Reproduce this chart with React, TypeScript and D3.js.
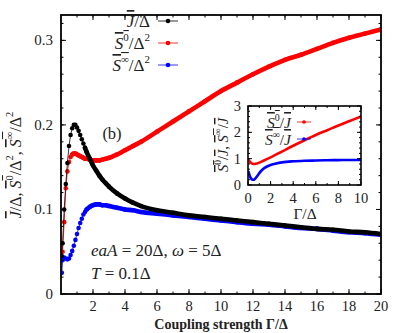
import React from "react";
import * as d3 from "d3";

const gammaMain = [0.05, 0.1, 0.2, 0.3, 0.4, 0.5, 0.6, 0.7, 0.8, 0.9, 1.0, 1.1, 1.2, 1.3, 1.4, 1.5, 1.6, 1.8, 2.0, 2.2, 2.4, 2.6, 2.8, 3.0, 3.5, 4, 4.5, 5, 6, 7, 8, 9, 10, 11, 12, 13, 14, 15, 16, 17, 18, 19, 20];
const currentJ = [0.045, 0.06, 0.1, 0.13, 0.155, 0.175, 0.188, 0.196, 0.2, 0.2, 0.197, 0.193, 0.188, 0.183, 0.178, 0.173, 0.168, 0.16, 0.152, 0.146, 0.14, 0.135, 0.131, 0.127, 0.119, 0.113, 0.108, 0.104, 0.099, 0.096, 0.093, 0.091, 0.089, 0.087, 0.085, 0.083, 0.081, 0.079, 0.077, 0.076, 0.074, 0.073, 0.071];
const noiseS0 = [0.043, 0.05, 0.085, 0.125, 0.145, 0.156, 0.162, 0.165, 0.166, 0.166, 0.165, 0.164, 0.163, 0.162, 0.161, 0.16, 0.16, 0.159, 0.158, 0.158, 0.158, 0.159, 0.16, 0.161, 0.165, 0.17, 0.175, 0.18, 0.192, 0.204, 0.216, 0.228, 0.24, 0.25, 0.26, 0.269, 0.277, 0.283, 0.29, 0.297, 0.303, 0.308, 0.313];
const noiseSinf = [0.025, 0.04, 0.043, 0.042, 0.041, 0.042, 0.046, 0.051, 0.057, 0.064, 0.071, 0.078, 0.084, 0.089, 0.094, 0.097, 0.1, 0.103, 0.105, 0.106, 0.106, 0.105, 0.105, 0.104, 0.102, 0.1, 0.099, 0.097, 0.095, 0.093, 0.091, 0.089, 0.087, 0.085, 0.083, 0.082, 0.08, 0.078, 0.077, 0.075, 0.073, 0.072, 0.07];

const gammaInset = [0.05, 0.1, 0.2, 0.3, 0.4, 0.5, 0.6, 0.8, 1.0, 1.2, 1.5, 2, 2.5, 3, 4, 5, 6, 7, 8, 9, 10];
const fanoS0 = [0.95, 0.92, 0.87, 0.83, 0.81, 0.8, 0.8, 0.82, 0.85, 0.89, 0.95, 1.05, 1.16, 1.27, 1.49, 1.7, 1.9, 2.08, 2.26, 2.43, 2.6];
const fanoSinf = [0.5, 0.42, 0.3, 0.23, 0.2, 0.2, 0.23, 0.33, 0.45, 0.55, 0.66, 0.76, 0.82, 0.86, 0.9, 0.92, 0.93, 0.94, 0.945, 0.95, 0.95];

const mainXTicks = [2, 4, 6, 8, 10, 12, 14, 16, 18, 20];
const mainYTicks = [0, 0.1, 0.2, 0.3];
const insetXTicks = [0, 2, 4, 6, 8, 10];
const insetYTicks = [0, 1, 2, 3];

const FONT = "'Liberation Serif', 'DejaVu Serif', 'Times New Roman', serif";

type Pt = [number, number];

function Ticks({ x, y, xMinor, yMinor, xMajor, yMajor, major, minor }: any) {
  const [x0, x1] = x.range();
  const [y0, y1] = y.range();
  const out: any[] = [];
  const addX = (v: number, len: number, k: string) => {
    const px = x(v);
    out.push(<line key={"xb" + k} x1={px} x2={px} y1={y0} y2={y0 - len} stroke="#000" strokeWidth={1} />);
    out.push(<line key={"xt" + k} x1={px} x2={px} y1={y1} y2={y1 + len} stroke="#000" strokeWidth={1} />);
  };
  const addY = (v: number, len: number, k: string) => {
    const py = y(v);
    out.push(<line key={"yl" + k} x1={x0} x2={x0 + len} y1={py} y2={py} stroke="#000" strokeWidth={1} />);
    out.push(<line key={"yr" + k} x1={x1} x2={x1 - len} y1={py} y2={py} stroke="#000" strokeWidth={1} />);
  };
  xMinor.forEach((v: number, i: number) => addX(v, minor, "m" + i));
  xMajor.forEach((v: number, i: number) => addX(v, major, "M" + i));
  yMinor.forEach((v: number, i: number) => addY(v, minor, "m" + i));
  yMajor.forEach((v: number, i: number) => addY(v, major, "M" + i));
  return <g>{out}</g>;
}

function Series({ xs, ys, x, y, color, thickFrom, thick, r }: any) {
  const pts: Pt[] = xs.map((g: number, i: number) => [x(g), y(ys[i])]);
  const thin = d3.line().curve(d3.curveLinear)(pts) || "";
  const thickPts = pts.filter((_, i) => xs[i] >= thickFrom);
  const thickPath = d3.line().curve(d3.curveMonotoneX)(thickPts) || "";
  return (
    <g>
      <path d={thin} fill="none" stroke={color} strokeWidth={0.8} />
      <path d={thickPath} fill="none" stroke={color} strokeWidth={thick} strokeLinecap="round" />
      {r > 0 && pts.map((p, i) => <circle key={i} cx={p[0]} cy={p[1]} r={r} fill={color} />)}
    </g>
  );
}

const OL = { textDecoration: "overline" } as any;

export default function App() {
  const x = d3.scaleLinear().domain([0, 20]).range([61, 381]);
  const y = d3.scaleLinear().domain([0, 0.33]).range([294, 15]);
  const xi = d3.scaleLinear().domain([0, 10]).range([248, 361]);
  const yi = d3.scaleLinear().domain([0, 3]).range([185, 106]);

  const mainXMinor = d3.range(1, 20, 1);
  const mainYMinor = d3.range(0.02, 0.33, 0.02);
  const insetXMinor = d3.range(1, 10, 1);
  const insetYMinor = d3.range(0.2, 3, 0.2);

  return (
    <svg width={407} height={333} style={{ position: "absolute", left: 0, top: 0, background: "#fff" }}>
      <style>{`text { font-family: ${FONT}; fill: #222; }`}</style>
      <rect width={407} height={333} fill="#fff" />
      <defs>
        <clipPath id="mainClip"><rect x={61} y={15} width={320} height={279} /></clipPath>
        <clipPath id="insetClip"><rect x={248} y={106} width={113} height={79} /></clipPath>
      </defs>

      <g clipPath="url(#mainClip)">
        <Series xs={gammaMain} ys={noiseS0} x={x} y={y} color="#ff0000" thickFrom={0.7} thick={4.6} r={2.3} />
        <Series xs={gammaMain} ys={noiseSinf} x={x} y={y} color="#0000ff" thickFrom={1.6} thick={4.6} r={2.3} />
        <Series xs={gammaMain} ys={currentJ} x={x} y={y} color="#000000" thickFrom={1.5} thick={4.6} r={2.3} />
      </g>

      <Ticks x={x} y={y} xMinor={mainXMinor} yMinor={mainYMinor} xMajor={mainXTicks} yMajor={mainYTicks} major={5} minor={2.5} />
      <rect x={61} y={15} width={320} height={279} fill="none" stroke="#000" strokeWidth={1.8} />

      {mainYTicks.map((t) => (
        <text key={t} x={53} y={y(t)} textAnchor="end" dominantBaseline="central" fontSize={15}>{t === 0 ? "0" : t.toFixed(1)}</text>
      ))}
      {mainXTicks.map((t) => (
        <text key={t} x={x(t)} y={306} textAnchor="middle" dominantBaseline="central" fontSize={14.5}>{t}</text>
      ))}
      <text x={221} y={324} textAnchor="middle" dominantBaseline="central" fontSize={14} fontWeight="bold">Coupling strength Γ/Δ</text>

      <text transform="translate(15,165) rotate(-90)" textAnchor="middle" dominantBaseline="central" fontSize={16}>
        <tspan style={OL} fontStyle="italic">J</tspan><tspan>/Δ, </tspan>
        <tspan style={OL}><tspan fontStyle="italic">S</tspan><tspan fontSize={10.5} dy={-6}>0</tspan></tspan>
        <tspan dy={6}>/Δ</tspan><tspan fontSize={10.5} dy={-6}>2</tspan><tspan dy={6}>, </tspan>
        <tspan style={OL}><tspan fontStyle="italic">S</tspan><tspan fontSize={10.5} dy={-6}>∞</tspan></tspan>
        <tspan dy={6}>/Δ</tspan><tspan fontSize={10.5} dy={-6}>2</tspan>
      </text>

      {[
        { c: "#000", yy: 21, k: "J" },
        { c: "#ff0000", yy: 43, k: "S0" },
        { c: "#0000ff", yy: 65, k: "Sinf" },
      ].map((e) => (
        <g key={e.k}>
          <line x1={158} x2={178} y1={e.yy} y2={e.yy} stroke={e.c} strokeWidth={0.8} />
          <circle cx={168} cy={e.yy} r={2.3} fill={e.c} />
        </g>
      ))}
      <text x={150} y={21} textAnchor="end" dominantBaseline="central" fontSize={17}>
        <tspan style={OL} fontStyle="italic">J</tspan><tspan>/Δ</tspan>
      </text>
      <text x={150} y={43} textAnchor="end" dominantBaseline="central" fontSize={17}>
        <tspan style={OL}><tspan fontStyle="italic">S</tspan><tspan fontSize={11} dy={-6}>0</tspan></tspan>
        <tspan dy={6}>/Δ</tspan><tspan fontSize={11} dy={-6}>2</tspan>
      </text>
      <text x={150} y={65} textAnchor="end" dominantBaseline="central" fontSize={17}>
        <tspan style={OL}><tspan fontStyle="italic">S</tspan><tspan fontSize={11} dy={-6}>∞</tspan></tspan>
        <tspan dy={6}>/Δ</tspan><tspan fontSize={11} dy={-6}>2</tspan>
      </text>

      <text x={112} y={133} textAnchor="middle" dominantBaseline="central" fontSize={16.5}>(b)</text>
      <text x={91} y={256} fontSize={17}>
        <tspan fontStyle="italic">eaA</tspan><tspan> = 20Δ, </tspan><tspan fontStyle="italic">ω</tspan><tspan> = 5Δ</tspan>
      </text>
      <text x={91} y={279} fontSize={17}>
        <tspan fontStyle="italic">T</tspan><tspan> = 0.1Δ</tspan>
      </text>

      <rect x={248} y={106} width={113} height={79} fill="#fff" />
      <g clipPath="url(#insetClip)">
        <Series xs={gammaInset} ys={fanoS0} x={xi} y={yi} color="#ff0000" thickFrom={0} thick={2.6} r={0} />
        <Series xs={gammaInset} ys={fanoSinf} x={xi} y={yi} color="#0000ff" thickFrom={0} thick={2.6} r={0} />
      </g>
      <Ticks x={xi} y={yi} xMinor={insetXMinor} yMinor={insetYMinor} xMajor={insetXTicks} yMajor={insetYTicks} major={4} minor={2} />
      <rect x={248} y={106} width={113} height={79} fill="none" stroke="#000" strokeWidth={1.6} />
      {insetYTicks.map((t) => (
        <text key={t} x={241} y={yi(t)} textAnchor="end" dominantBaseline="central" fontSize={14.5}>{t}</text>
      ))}
      {insetXTicks.map((t) => (
        <text key={t} x={xi(t)} y={198} textAnchor="middle" dominantBaseline="central" fontSize={14.5}>{t}</text>
      ))}
      <text x={305} y={213} textAnchor="middle" dominantBaseline="central" fontSize={15.5}>Γ/Δ</text>
      <text transform="translate(223,145) rotate(-90)" textAnchor="middle" dominantBaseline="central" fontSize={14.5}>
        <tspan style={OL}><tspan fontStyle="italic">S</tspan><tspan fontSize={9.5} dy={-5}>0</tspan></tspan>
        <tspan dy={5}>/</tspan><tspan style={OL} fontStyle="italic">J</tspan><tspan>, </tspan>
        <tspan style={OL}><tspan fontStyle="italic">S</tspan><tspan fontSize={9.5} dy={-5}>∞</tspan></tspan>
        <tspan dy={5}>/</tspan><tspan style={OL} fontStyle="italic">J</tspan>
      </text>
      <text x={291} y={122} textAnchor="end" dominantBaseline="central" fontSize={15.5}>
        <tspan style={OL}><tspan fontStyle="italic">S</tspan><tspan fontSize={10} dy={-5}>0</tspan></tspan>
        <tspan dy={5}>/</tspan><tspan style={OL} fontStyle="italic">J</tspan>
      </text>
      <text x={291} y={139} textAnchor="end" dominantBaseline="central" fontSize={15.5}>
        <tspan style={OL}><tspan fontStyle="italic">S</tspan><tspan fontSize={10} dy={-5}>∞</tspan></tspan>
        <tspan dy={5}>/</tspan><tspan style={OL} fontStyle="italic">J</tspan>
      </text>
      <line x1={297} x2={311} y1={122} y2={122} stroke="#ff0000" strokeWidth={0.8} />
      <circle cx={304} cy={122} r={1.8} fill="#ff0000" />
      <line x1={297} x2={311} y1={139} y2={139} stroke="#0000ff" strokeWidth={0.8} />
      <circle cx={304} cy={139} r={1.8} fill="#0000ff" />
    </svg>
  );
}
